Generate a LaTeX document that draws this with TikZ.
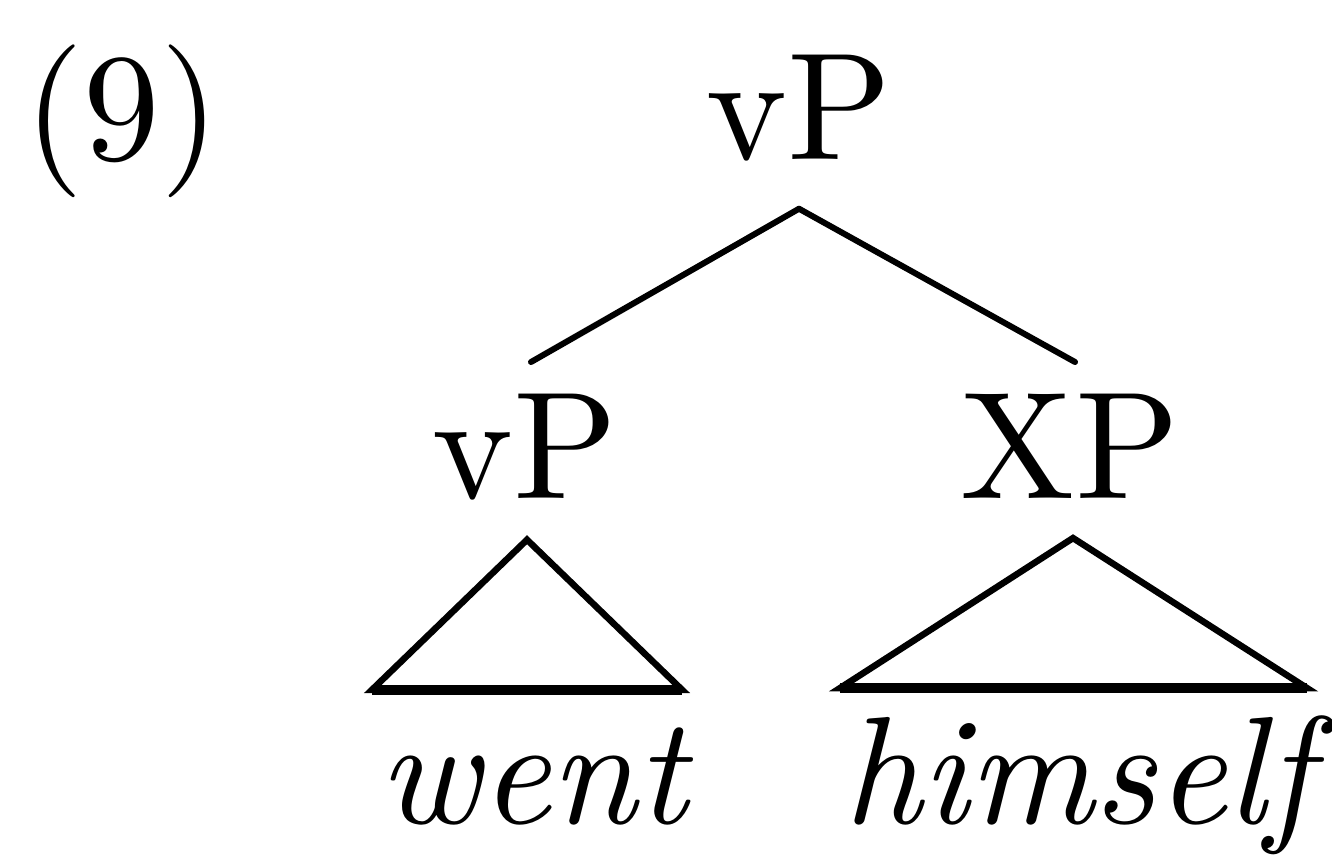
\documentclass[tikz,border=0pt]{standalone}

\tikzset{
  cat/.style={inner sep=0pt, scale=4.35, anchor=base},
  word/.style={inner sep=0pt, scale=4.35, anchor=base, font=\itshape},
  branch/.style={line width=0.06cm, line cap=round},
  roof/.style={line width=0.065cm, line join=miter},
  roofbase/.style={line width=0.095cm},
}

\begin{document}
\begin{tikzpicture}
  \useasboundingbox (0,0) rectangle (13.32,8.54);
  % example number and categories
  \node[cat] (ex) at (1.22,6.94) {(9)};
  \node[cat] (vp0) at (7.99,6.94) {vP};
  \node[cat] (vp1) at (5.25,3.56) {vP};
  \node[cat] (xp) at (10.70,3.56) {XP};
  % leaves
  \node[word] (went) at (5.33,0.31) {went};
  \node[word] (himself) at (10.78,0.31) {himself};
  % branches
  \draw[branch] ([yshift=-0.44cm]vp0.south) -- ([xshift=0.06cm,yshift=0.285cm]vp1.north);
  \draw[branch] ([yshift=-0.44cm]vp0.south) -- ([xshift=0.05cm,yshift=0.285cm]xp.north);
  % roofs
  \draw[roof] ([xshift=0.02cm,yshift=-0.37cm]vp1.south) -- ++(-1.55,-1.5) coordinate (vp1-l)
    -- ++(3.10,0) coordinate (vp1-r) -- cycle;
  \draw[roofbase] (vp1-l) -- (vp1-r);
  \draw[roof] ([xshift=0.03cm,yshift=-0.37cm]xp.south) -- ++(-2.33,-1.5) coordinate (xp-l)
    -- ++(4.67,0) coordinate (xp-r) -- cycle;
  \draw[roofbase] (xp-l) -- (xp-r);
\end{tikzpicture}
\end{document}
